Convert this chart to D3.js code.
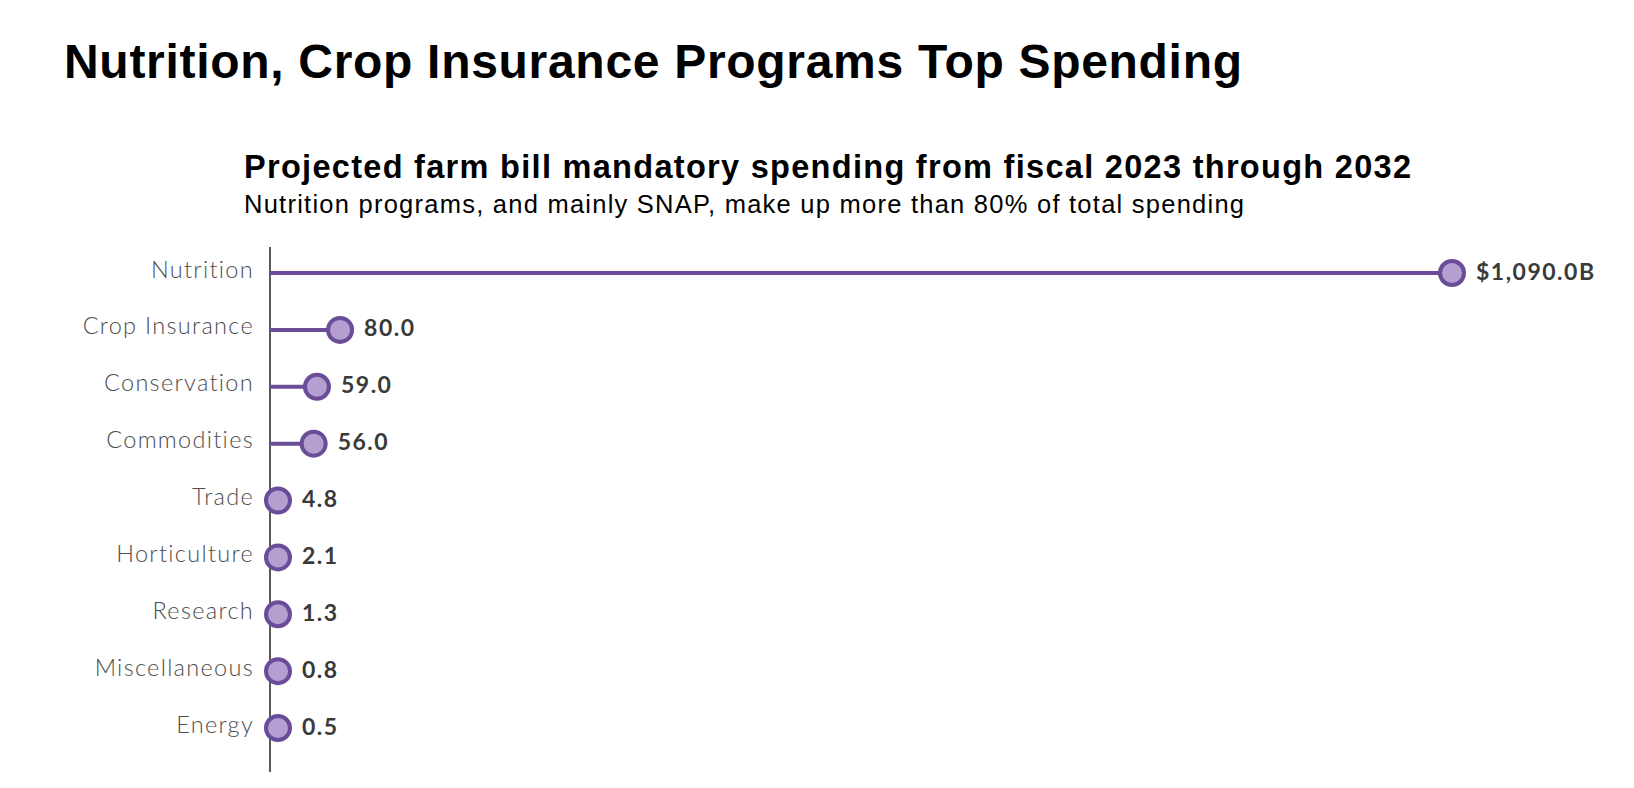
<!DOCTYPE html>
<html>
<head>
<meta charset="utf-8">
<script src="https://cdn.jsdelivr.net/npm/d3@7"></script>
<style>
  body { margin: 0; background: #fff; }
  svg { display: block; }
</style>
</head>
<body>
<div id="chart"></div>
<script>
// data, in billions of dollars
var categories = ["Nutrition", "Crop Insurance", "Conservation", "Commodities", "Trade",
                  "Horticulture", "Research", "Miscellaneous", "Energy"];
var spending = [1090.0, 80.0, 59.0, 56.0, 4.8, 2.1, 1.3, 0.8, 0.5];
var valueLabels = ["$1,090.0B", "80.0", "59.0", "56.0", "4.8", "2.1", "1.3", "0.8", "0.5"];

var title = "Nutrition, Crop Insurance Programs Top Spending";
var subtitle = "Projected farm bill mandatory spending from fiscal 2023 through 2032";
var note = "Nutrition programs, and mainly SNAP, make up more than 80% of total spending";

var width = 1634, height = 788;
var axisX = 270;
var r = 12;

var data = categories.map(function(c, i) {
    return {name: c, value: spending[i], label: valueLabels[i]};
});

var svg = d3.select("#chart")
    .append("svg")
    .attr("width", width)
    .attr("height", height);

// titles (stretched a little, the original face is wider than Arial)
svg.append("text")
    .attr("x", 64).attr("y", 78)
    .attr("textLength", 1178)
    .attr("lengthAdjust", "spacing")
    .style("font-family", "Liberation Sans, Arial, sans-serif")
    .style("font-weight", "bold")
    .style("font-size", "48px")
    .attr("fill", "#000")
    .text(title);

svg.append("text")
    .attr("x", 244).attr("y", 178)
    .attr("textLength", 1167)
    .attr("lengthAdjust", "spacing")
    .style("font-family", "Liberation Sans, Arial, sans-serif")
    .style("font-weight", "bold")
    .style("font-size", "32.5px")
    .attr("fill", "#000")
    .text(subtitle);

svg.append("text")
    .attr("x", 244).attr("y", 213)
    .attr("textLength", 1000)
    .attr("lengthAdjust", "spacing")
    .style("font-family", "Liberation Sans, Arial, sans-serif")
    .style("font-size", "25.5px")
    .attr("fill", "#000")
    .text(note);

// scales
var x = d3.scaleLinear().domain([0, 1090]).range([252, 1452]);
var y = d3.scalePoint().domain(categories).range([273, 728]);

// keep small dots clear of the axis line
function cx(d) { return Math.max(x(d.value), axisX + 8); }

// category labels
svg.append("g")
    .selectAll("text")
    .data(data)
    .enter().append("text")
    .attr("x", 254)
    .attr("y", function(d) { return y(d.name) + 4.5; })
    .attr("text-anchor", "end")
    .style("font-family", "Lato, sans-serif")
    .style("font-weight", "300")
    .style("font-size", "23.5px")
    .style("letter-spacing", "1.3px")
    .attr("fill", "#4d4d4d")
    .text(function(d) { return d.name; });

// axis line
svg.append("line")
    .attr("x1", axisX).attr("x2", axisX)
    .attr("y1", 247).attr("y2", 772)
    .attr("stroke", "#222")
    .attr("stroke-width", 1.5);

// stems
svg.append("g")
    .selectAll("line")
    .data(data)
    .enter().append("line")
    .attr("x1", axisX)
    .attr("x2", cx)
    .attr("y1", function(d) { return y(d.name); })
    .attr("y2", function(d) { return y(d.name); })
    .attr("stroke", "#6b4c99")
    .attr("stroke-width", 4);

// dots
svg.append("g")
    .selectAll("circle")
    .data(data)
    .enter().append("circle")
    .attr("cx", cx)
    .attr("cy", function(d) { return y(d.name); })
    .attr("r", r)
    .attr("fill", "#b59fd1")
    .attr("stroke", "#6b4c99")
    .attr("stroke-width", 4);

// value labels
svg.append("g")
    .selectAll("text")
    .data(data)
    .enter().append("text")
    .attr("x", function(d) { return cx(d) + 24; })
    .attr("y", function(d) { return y(d.name) + 6.5; })
    .style("font-family", "Lato, sans-serif")
    .style("font-weight", "bold")
    .style("font-size", "23px")
    .style("letter-spacing", "1.5px")
    .attr("fill", "#3a3a3a")
    .text(function(d) { return d.label; });
</script>
</body>
</html>
